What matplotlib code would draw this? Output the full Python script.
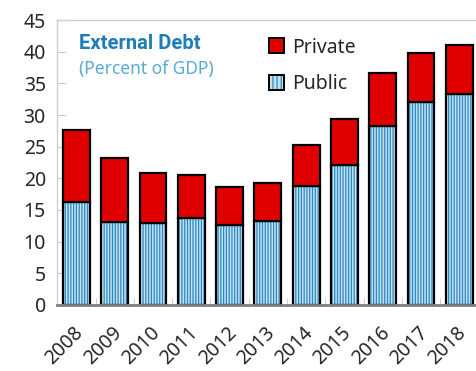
import numpy as np
import matplotlib
matplotlib.use('Agg')
import matplotlib.pyplot as plt
from matplotlib.patches import Patch
from matplotlib.legend_handler import HandlerTuple
import matplotlib.transforms as mtransforms

plt.rcParams['font.family'] = ['Noto Sans', 'DejaVu Sans']

years = ['2008', '2009', '2010', '2011', '2012', '2013',
         '2014', '2015', '2016', '2017', '2018']
total = [27.6, 23.2, 20.8, 20.6, 18.7, 19.3, 25.3, 29.3, 36.6, 39.8, 41.0]
public = [16.3, 13.1, 12.9, 13.7, 12.6, 13.2, 18.8, 22.1, 28.2, 32.0, 33.3]
private = [t - p for t, p in zip(total, public)]

x = np.arange(len(years))
width = 0.7
red = '#e00000'
light = '#c4e1f2'
stripe = '#2b88c2'

fig = plt.figure(figsize=(4.77, 3.71), dpi=100)
ax = fig.add_axes([0.1195, 0.178, 0.885, 0.768])

# public: light fill + blue vertical stripes
plt.rcParams['hatch.linewidth'] = 0.9
ax.bar(x, public, width, color=light, edgecolor=stripe,
       hatch='||||||', linewidth=0, zorder=2)
ax.bar(x, public, width, color='none', edgecolor='black', linewidth=1.6, zorder=3)
ax.bar(x, private, width, bottom=public, color=red,
       edgecolor='black', linewidth=1.6, zorder=3)

ax.set_xlim(-0.51, 10.52)
ax.set_ylim(0, 45)
ax.set_yticks(range(0, 46, 5))
ax.tick_params(axis='y', direction='in', length=6, color='#c8c8c8',
               labelsize=14, labelcolor='#262626', pad=8)

ax.set_xticks(x)
ax.set_xticklabels(years, rotation=45, ha='right', rotation_mode='anchor',
                   fontsize=14, color='#262626')
ax.tick_params(axis='x', length=0, pad=13)
offset = mtransforms.ScaledTranslation(-3 / 100, 0, fig.dpi_scale_trans)
for lab in ax.get_xticklabels():
    lab.set_transform(lab.get_transform() + offset)
ax.set_xticks(x[:-1] + 0.5, minor=True)
ax.tick_params(axis='x', which='minor', direction='in', length=5,
               color='#c8c8c8')

for s in ['top', 'left', 'right']:
    ax.spines[s].set_color('#d0d0d0')
    ax.spines[s].set_linewidth(1.0)
ax.spines['bottom'].set_color('#7f7f7f')
ax.spines['bottom'].set_linewidth(2.0)
ax.spines['bottom'].set_zorder(4)

ax.text(0.052, 0.95, 'External Debt', transform=ax.transAxes,
        fontsize=14.5, fontweight='bold', color='#1f7db5', va='top',
        family=['Roboto', 'DejaVu Sans'])
ax.text(0.052, 0.86, '(Percent of GDP)', transform=ax.transAxes,
        fontsize=12.5, color='#5aaad6', va='top')

h_private = Patch(facecolor=red, edgecolor='black', linewidth=1.4)
h_public = (Patch(facecolor=light, edgecolor=stripe, hatch='||||', linewidth=0),
            Patch(facecolor='none', edgecolor='black', linewidth=1.4))
ax.legend([h_private, h_public], ['Private', 'Public'], loc='upper left',
          bbox_to_anchor=(0.46, 1.0), frameon=False, fontsize=14,
          handlelength=0.8, handleheight=0.8, handletextpad=0.4,
          labelspacing=0.85, labelcolor='#262626',
          handler_map={tuple: HandlerTuple(ndivide=1, pad=0)})

fig.savefig('out.png', dpi=100)
